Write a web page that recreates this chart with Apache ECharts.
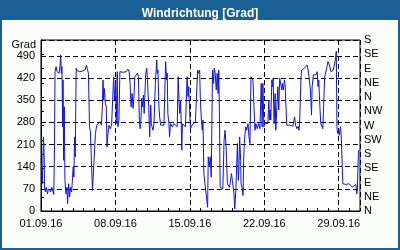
<!DOCTYPE html>
<html><head><meta charset="utf-8">
<script src="https://cdn.jsdelivr.net/npm/echarts@6/dist/echarts.min.js"></script>
<style>html,body{margin:0;padding:0;background:#fafcfa}#c{width:400px;height:250px}</style>
</head><body><div id="c"></div>
<script>
// day offsets from 01.09.2016 00:00 (fractional days)
const days = [0.05,0.11,0.17,0.23,0.30,0.33,0.42,0.51,0.61,0.70,0.82,0.92,1.01,1.10,1.20,1.26,1.32,1.42,1.51,1.60,1.70,1.79,1.85,1.91,1.97,2.04,2.07,2.13,2.19,2.25,2.35,2.44,2.50,2.60,2.69,2.78,2.88,2.97,3.03,3.09,3.16,3.22,3.31,3.41,3.53,3.65,3.78,3.90,4.03,4.15,4.28,4.37,4.46,4.56,4.65,4.74,4.84,4.93,5.02,5.12,5.24,5.40,5.55,5.68,5.77,5.83,5.89,5.96,6.05,6.14,6.21,6.27,6.39,6.52,6.64,6.76,6.83,6.92,7.01,7.08,7.17,7.23,7.33,7.42,7.54,7.70,7.85,8.01,8.16,8.29,8.38,8.47,8.57,8.66,8.75,8.82,8.94,9.07,9.16,9.25,9.32,
9.38,9.48,9.54,9.63,9.70,9.85,9.94,10.01,10.13,10.22,10.32,10.38,10.44,10.53,10.63,10.75,10.88,10.94,11.00,11.09,11.16,11.25,11.41,11.56,11.72,11.81,11.87,11.93,12.03,12.09,12.18,12.34,12.49,12.65,12.81,12.90,12.99,13.05,13.12,13.18,13.24,13.30,13.43,13.58,13.74,13.83,13.89,13.96,14.05,14.20,14.36,14.52,14.61,14.73,14.83,14.92,14.98,15.08,15.17,15.23,15.32,15.42,15.51,15.60,15.67,15.73,15.82,15.92,16.01,16.13,16.23,16.29,16.38,16.48,16.57,16.66,16.72,16.79,16.85,17.00,17.10,17.22,17.31,17.41,17.53,17.63,17.72,17.78,17.91,18.00,18.15,18.22,18.34,18.40,18.47,18.56,18.62,18.68,18.78,
18.81,18.91,19.00,19.06,19.12,19.19,19.25,19.34,19.47,19.56,19.65,19.75,19.84,19.93,20.03,20.12,20.21,20.34,20.46,20.59,20.71,20.80,20.87,20.96,21.05,21.21,21.33,21.43,21.49,21.55,21.61,21.71,21.77,21.83,21.92,22.02,22.08,22.14,22.27,22.36,22.45,22.55,22.64,22.70,22.79,22.89,22.95,23.04,23.11,23.20,23.39,23.54,23.70,23.85,23.94,24.07,24.19,24.26,24.32,24.44,24.50,24.63,24.78,24.94,25.03,25.13,25.22,25.34,25.44,25.50,25.62,25.75,25.87,25.97,26.06,26.12,26.22,26.31,26.43,26.50,26.68,26.77,26.90,26.99,27.05,27.12,27.21,27.27,27.37,27.49,27.58,27.68,27.77,27.83,27.89,27.99,28.05,28.11,28.17,28.24,28.33,28.39,28.52,28.67,28.83,28.98,29.14,29.29,29.45,29.61,29.70,29.76,29.85,29.88];
// wind direction in degrees
const values = [150,86,139,234,171,75,60,75,54,70,75,60,75,65,52,176,440,456,440,446,435,461,493,435,456,266,414,160,329,97,54,75,23,86,44,75,60,107,139,107,234,171,451,443,438,440,437,442,439,446,461,446,435,266,250,160,65,70,60,245,271,276,282,271,329,414,350,387,340,329,202,234,271,260,271,266,424,350,403,276,440,266,287,440,435,438,437,440,448,440,403,329,371,324,366,424,419,435,424,287,260,
276,356,329,366,308,435,451,414,330,234,335,276,266,255,276,400,477,435,445,329,297,271,266,271,472,414,435,308,276,234,276,266,276,271,266,424,340,308,350,287,192,276,282,266,424,361,393,387,260,271,276,282,282,445,435,445,361,287,255,287,118,86,86,81,12,171,139,171,107,445,403,451,435,382,435,371,445,276,75,75,70,224,255,202,86,81,75,86,118,97,54,7,75,139,213,97,139,234,160,
86,75,49,160,213,245,266,255,276,234,213,424,419,414,329,255,276,260,276,260,403,266,403,266,276,282,276,350,287,319,287,414,393,419,276,371,255,260,393,319,419,414,382,403,382,414,403,329,271,266,271,276,268,297,271,260,268,255,276,414,445,440,451,445,461,445,440,382,303,393,430,435,430,440,393,414,335,276,282,260,424,419,456,472,477,461,467,440,440,445,440,477,504,266,245,255,239,255,266,234,139,86,81,84,79,86,81,75,79,84,54,75,181,192];
const dateLabels = ['01.09.16','08.09.16','15.09.16','22.09.16','29.09.16'];
const dirLabels = ['N','NE','E','SE','S','SW','W','NW','N','NE','E','SE','S'];
const leftTicks = [0,70,140,210,280,350,420,490];

const F = 'Liberation Sans';
const blue = '#1b6094';
const chart = echarts.init(document.getElementById('c'), null, {renderer:'canvas'});
const dash = {color:'#000', type:[5,3], width:1};
chart.setOption({
  animation:false,
  backgroundColor:'#fafcfa',
  graphic:[
    {type:'rect', z:-1, shape:{x:0,y:0,width:400,height:20}, style:{fill:blue}},
    {type:'rect', z:-1, shape:{x:1,y:1,width:398,height:248}, style:{fill:null, stroke:blue, lineWidth:2}}
  ],
  title:{text:'Windrichtung [Grad]', left:'center', top:3, textStyle:{color:'#fff', fontFamily:F, fontWeight:'bold', fontSize:12}},
  grid:{left:41, right:40, top:40, bottom:39, show:true, backgroundColor:'#fff', borderColor:'#000', borderWidth:1},
  xAxis:[
    {type:'value', min:0, max:30, interval:1, position:'bottom',
     axisLine:{lineStyle:{color:'#000'}}, axisTick:{inside:true, length:3, lineStyle:{color:'#000'}},
     axisLabel:{show:false}, splitLine:{show:false}},
    {type:'value', min:0, max:30, interval:7, position:'bottom',
     axisLine:{show:false}, axisTick:{show:false},
     axisLabel:{margin:7, color:'#000', fontFamily:F, fontSize:11, formatter:v => dateLabels[v/7] || ''},
     splitLine:{show:true, lineStyle:dash}}
  ],
  yAxis:[
    {type:'value', min:0, max:540, interval:70, position:'left',
     name:'Grad', nameLocation:'end', nameGap:-7,
     nameTextStyle:{color:'#000', fontFamily:F, fontSize:11, align:'right', verticalAlign:'middle', padding:[0,5,0,0]},
     axisLine:{show:true, lineStyle:{color:'#000'}}, axisTick:{show:false},
     axisLabel:{margin:6, color:'#000', fontFamily:F, fontSize:11, formatter:v => leftTicks.indexOf(v) >= 0 ? String(v) : ''},
     splitLine:{show:true, lineStyle:dash}},
    {type:'value', min:0, max:540, interval:45, position:'right',
     axisLine:{show:true, lineStyle:{color:'#000'}}, axisTick:{show:true, length:3, lineStyle:{color:'#000'}},
     axisLabel:{margin:4, color:'#000', fontFamily:F, fontSize:11, formatter:v => dirLabels[Math.round(v/45)] || ''},
     splitLine:{show:false}}
  ],
  series:[{type:'line', xAxisIndex:0, yAxisIndex:0, showSymbol:false, symbol:'none',
    lineStyle:{color:'#1010f0', width:1}, data: days.map((d,i)=>[d, values[i]])}]
});
</script></body></html>
